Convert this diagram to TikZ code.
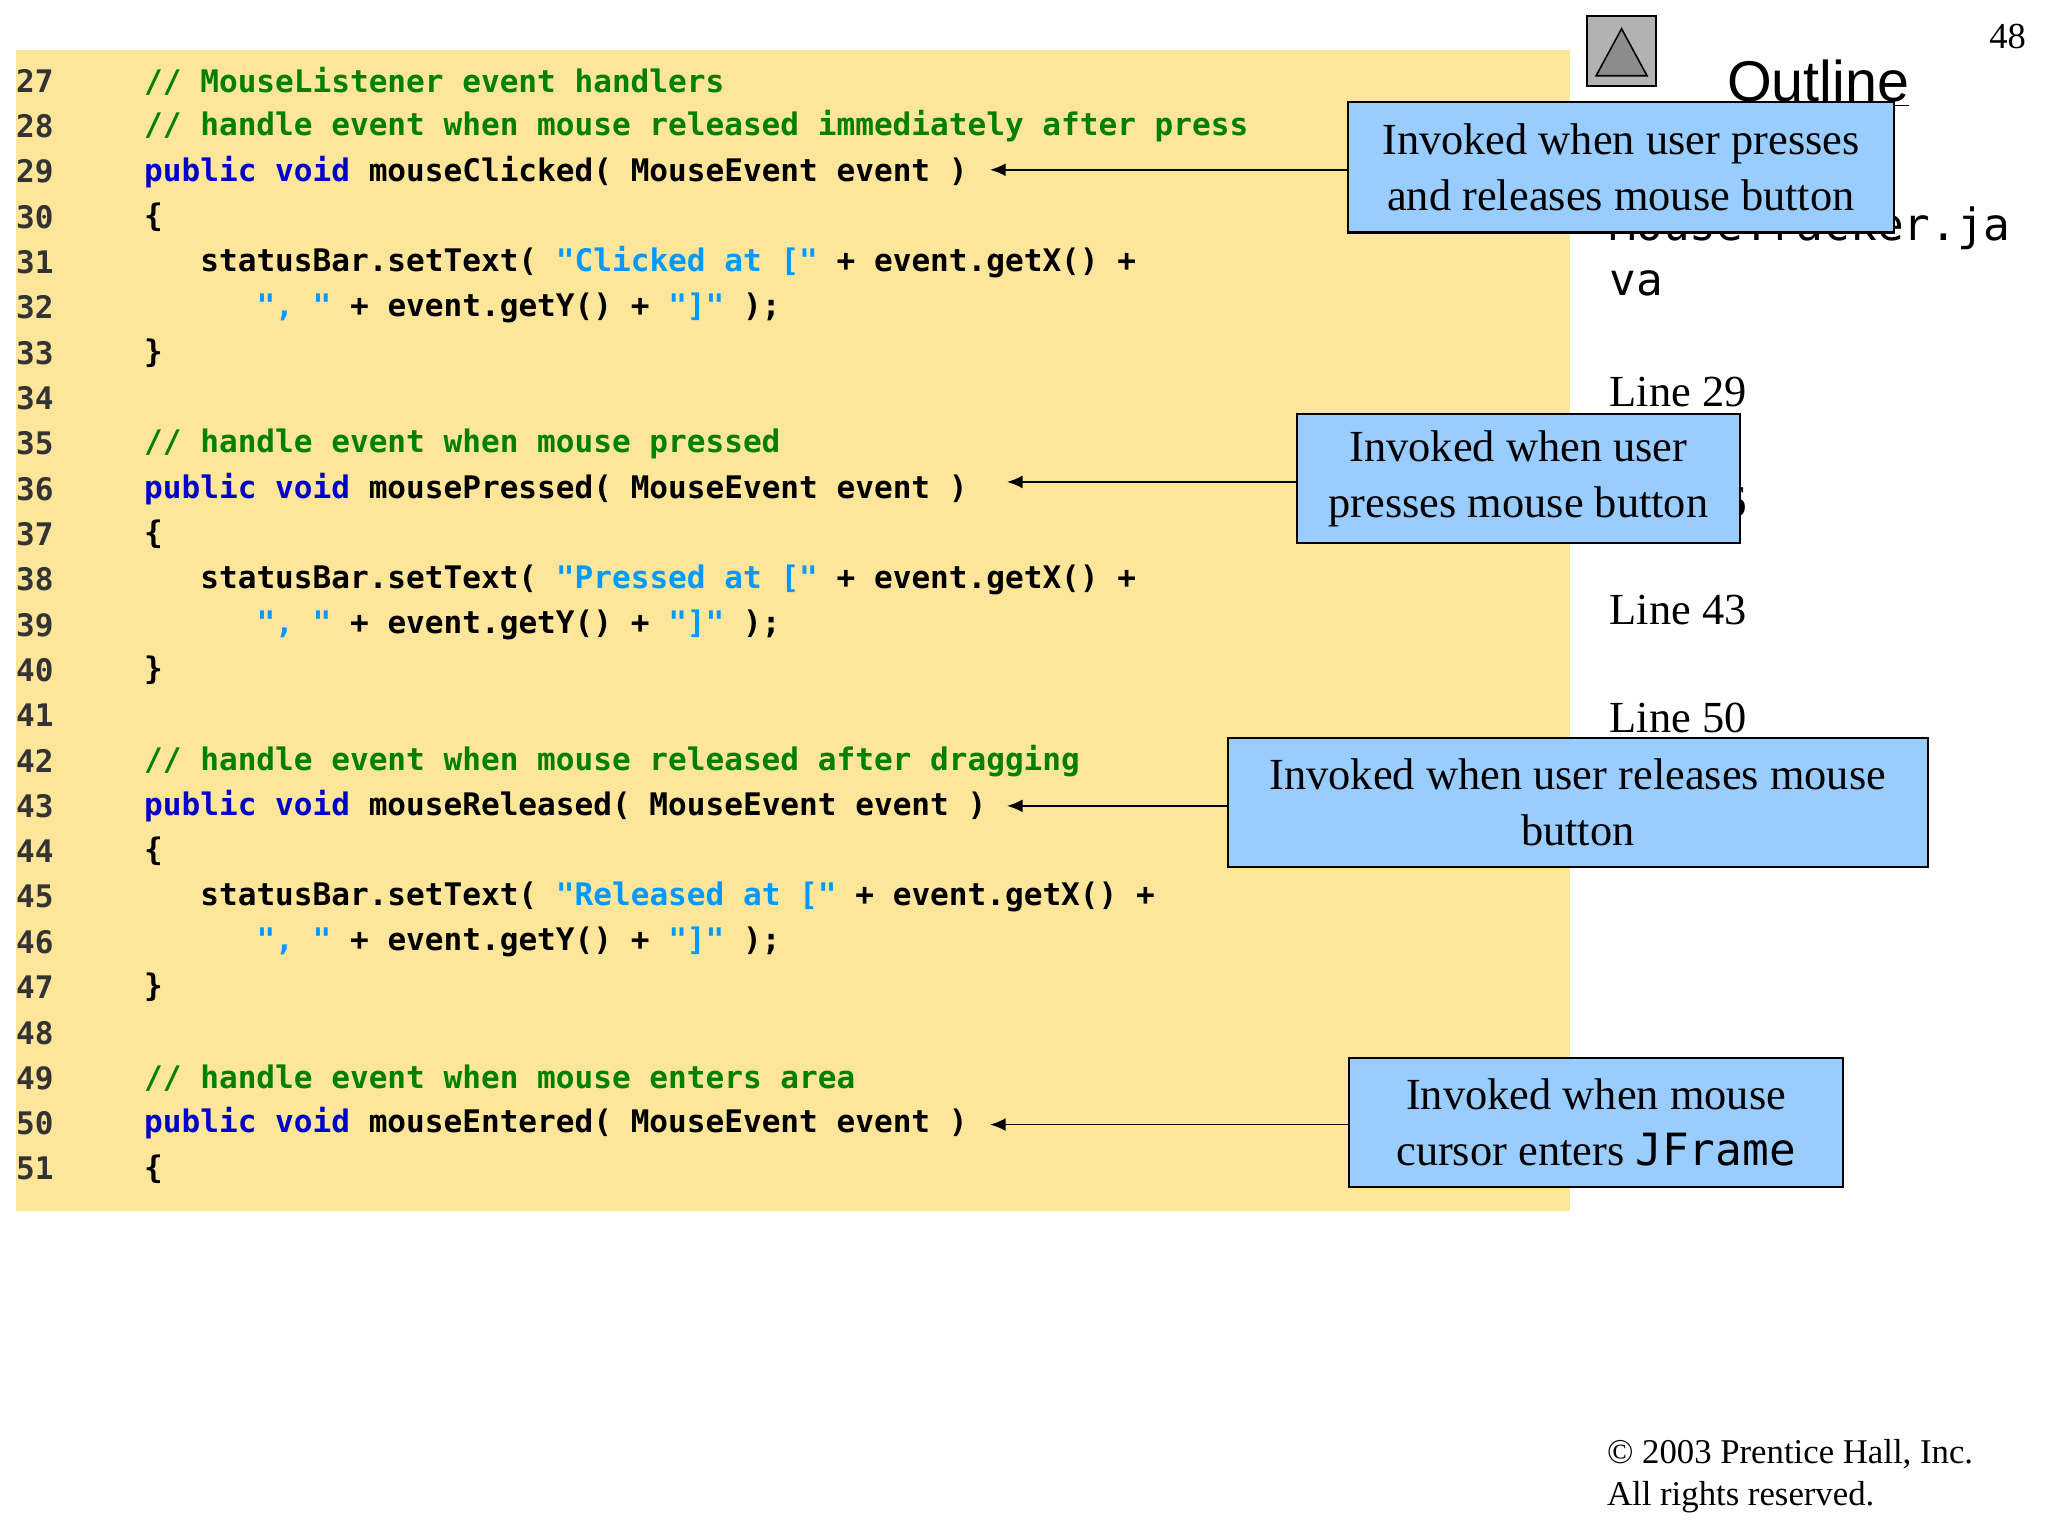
\documentclass[tikz,border=0pt]{standalone}
\usepackage{fontspec}
\setmainfont{Liberation Serif}
\setmonofont{DejaVu Sans Mono}
\newfontfamily\outf{Liberation Sans}
\usetikzlibrary{arrows.meta}
\definecolor{bgy}{HTML}{FDE59A}
\definecolor{callb}{HTML}{99CCFF}
\definecolor{kwc}{HTML}{0000CC}
\definecolor{cmc}{HTML}{008000}
\definecolor{stc}{HTML}{0099FF}
\definecolor{lnc}{HTML}{333333}
\newcommand{\kw}[1]{\textcolor{kwc}{#1}}
\newcommand{\cm}[1]{\textcolor{cmc}{#1}}
\newcommand{\stc}[1]{\textcolor{stc}{#1}}
\begin{document}
\begin{tikzpicture}[x=0.5pt,y=-0.5pt,
  code/.style={anchor=west,inner sep=0pt,font=\fontsize{11.9}{14}\ttfamily\bfseries},
  lnum/.style={anchor=west,inner sep=0pt,font=\fontsize{11.9}{14}\ttfamily\bfseries,text=lnc},
  call/.style={draw=black,line width=0.8pt,fill=callb,align=center,font=\fontsize{17}{21.5}\selectfont,inner sep=0pt},
  side/.style={anchor=west,inner sep=0pt,font=\fontsize{17}{21}\selectfont},
  arr/.style={-{Latex[length=6pt,width=5pt]},line width=0.7pt}]
\useasboundingbox (0,0) rectangle (1568,1176);
\fill[bgy] (12,38) rectangle (1202,927);
\foreach \n [count=\i from 0] in {27,...,51}{
  \node[lnum] at (12,{62+34.7*\i}) {\n};
}
\node[code] (c27) at (110,62) {\cm{// MouseListener event handlers}};
\node[code] (c28) at (110,96.7) {\cm{// handle event when mouse released immediately after press}};
\node[code] (c29) at (110,131.4) {\kw{public void} mouseClicked( MouseEvent event )};
\node[code] at (110,166.1) {\{};
\node[code] at (153,200.8) {statusBar.setText( \stc{"Clicked at ["} + event.getX() +};
\node[code] at (196,235.5) {\stc{", "} + event.getY() + \stc{"]"} );};
\node[code] at (110,270.2) {\}};
\node[code] at (110,339.6) {\cm{// handle event when mouse pressed}};
\node[code] (c36) at (110,374.3) {\kw{public void} mousePressed( MouseEvent event )};
\node[code] at (110,409) {\{};
\node[code] at (153,443.7) {statusBar.setText( \stc{"Pressed at ["} + event.getX() +};
\node[code] at (196,478.4) {\stc{", "} + event.getY() + \stc{"]"} );};
\node[code] at (110,513.1) {\}};
\node[code] at (110,582.5) {\cm{// handle event when mouse released after dragging}};
\node[code] (c43) at (110,617.2) {\kw{public void} mouseReleased( MouseEvent event )};
\node[code] at (110,651.9) {\{};
\node[code] at (153,686.6) {statusBar.setText( \stc{"Released at ["} + event.getX() +};
\node[code] at (196,721.3) {\stc{", "} + event.getY() + \stc{"]"} );};
\node[code] at (110,756) {\}};
\node[code] at (110,825.4) {\cm{// handle event when mouse enters area}};
\node[code] (c50) at (110,860.1) {\kw{public void} mouseEntered( MouseEvent event )};
\node[code] at (110,894.8) {\{};
% right side
\node[inner sep=0pt] (num) at (1537,28) {\fontsize{14}{16}\selectfont 48};
\draw[fill=gray!60,line width=0.8pt] (1215,12) rectangle (1268,66);
\draw[fill=gray!90,draw=black,line width=0.6pt] (1222,58) -- (1241.5,22) -- (1261,58) -- cycle;
\node[anchor=west,inner sep=0pt,font=\outf\fontsize{22}{24}\selectfont] (out) at (1322,64) {\underline{Outline}};
\node[side,font=\fontsize{17}{21}\ttfamily] (f1) at (1232,175) {MouseTracker.ja};
\node[side,font=\fontsize{17}{21}\ttfamily] (f2) at (1232,217) {va};
\node[side] (l29) at (1232,300) {Line 29};
\node[side] (l36) at (1232,384) {Line 36};
\node[side] (l43) at (1232,467) {Line 43};
\node[side] (l50) at (1232,550) {Line 50};
\node[anchor=west,inner sep=0pt,align=left,font=\fontsize{13.3}{16}\selectfont] (cp) at (1230,1130) {\textcopyright{} 2003 Prentice Hall, Inc.\\All rights reserved.};
% callouts
\node[call,minimum width=209pt,minimum height=50pt] (b1) at (1241,128) {Invoked when user presses\\and releases mouse button};
\node[call,minimum width=169.5pt,minimum height=49.5pt] (b2) at (1162.5,366.5) {Invoked when user\\presses mouse button};
\node[call,minimum width=268pt,minimum height=49.5pt] (b3) at (1208,614.5) {Invoked when user releases mouse\\button};
\node[call,minimum width=189pt,minimum height=49.5pt] (b4) at (1222,859.5) {Invoked when mouse\\cursor enters \texttt{JFrame}};
\coordinate (t1) at (758,130);
\coordinate (t2) at (771,369);
\coordinate (t3) at (771,617);
\coordinate (t4) at (758,861);
\draw[arr] (b1.west |- t1) -- (t1);
\draw[arr] (b2.west |- t2) -- (t2);
\draw[arr] (b3.west |- t3) -- (t3);
\draw[arr] (b4.west |- t4) -- (t4);
\end{tikzpicture}
\end{document}
